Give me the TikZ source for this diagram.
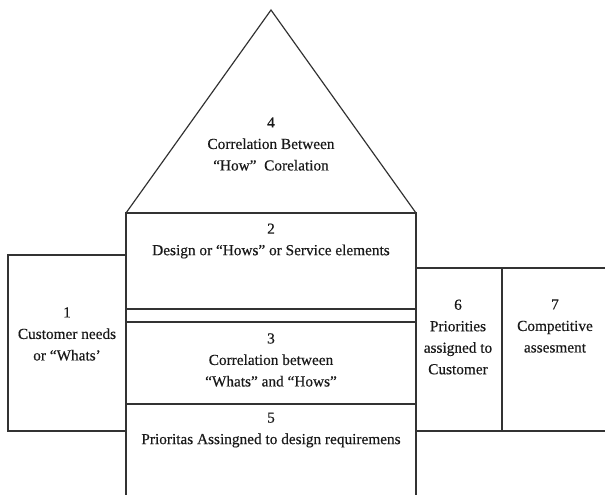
\documentclass[tikz,border=0pt]{standalone}
\usepackage{fontspec}
\setmainfont{Liberation Serif}[FakeBold=0.4]
\begin{document}
\begin{tikzpicture}[x=1pt,y=-1pt,
  edge/.style={draw=black!80,line width=1.2pt},
  lbl/.style={align=center,font=\fontsize{15.3}{21.5}\selectfont,inner sep=0pt,text=black!90}]
\useasboundingbox (0,0) rectangle (605,495);
% coordinates
\coordinate (apex) at (271,10);
\coordinate (tl) at (126,213);
\coordinate (tr) at (416,213);
\coordinate (bl) at (126,497);
\coordinate (br) at (416,497);
% roof
\draw[edge] (tl) -- (apex) -- (tr);
% central column
\draw[edge] (bl) -- (tl) -- (tr) -- (br);
\draw[edge] (126,309) -- (416,309);
\draw[edge] (126,322) -- (416,322);
\draw[edge] (126,404) -- (416,404);
% left box
\draw[edge] (126,255) -- (8,255) -- (8,431) -- (126,431);
% right boxes
\draw[edge] (416,268) -- (607,268);
\draw[edge] (416,431) -- (607,431);
\draw[edge] (502,268) -- (502,431);
% labels
\node[lbl] (t4) at (271,144) {4\\Correlation Between\\“How”\ \ Corelation};
\node[lbl] (t2) at (271,241) {2\\Design or “Hows” or Service elements};
\node[lbl] (t1) at (67,334) {1\\Customer needs\\or “Whats’};
\node[lbl] (t3) at (271,360) {3\\Correlation between\\“Whats” and “Hows”};
\node[lbl] (t5) at (271,430) {5\\Prioritas Assingned to design requiremens};
\node[lbl] (t6) at (458,337) {6\\Priorities\\assigned to\\Customer};
\node[lbl] (t7) at (555,326) {7\\Competitive\\assesment};
\end{tikzpicture}
\end{document}
